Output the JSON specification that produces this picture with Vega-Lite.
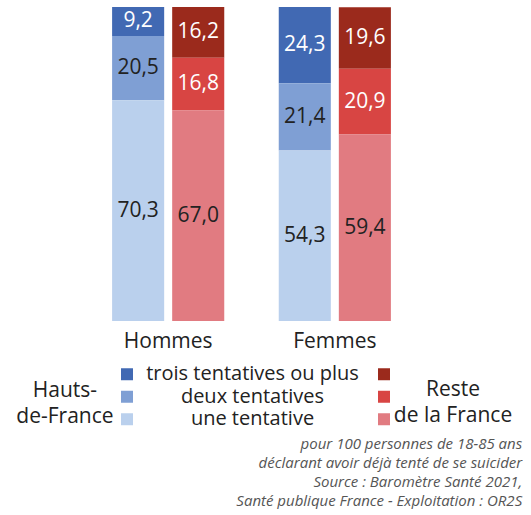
{
  "$schema": "https://vega.github.io/schema/vega-lite/v6.json",
  "padding": {"left": 0, "top": 7, "right": 0, "bottom": 0},
  "config": {
    "font": "Open Sans",
    "view": {"stroke": null},
    "locale": {"number": {"decimal": ",", "thousands": " ", "grouping": [3], "currency": ["", " €"]}}
  },
  "title": {
    "text": ["pour 100 personnes de 18-85 ans", "déclarant avoir déjà tenté de se suicider", "Source : Baromètre Santé 2021,", "Santé publique France - Exploitation : OR2S"],
    "orient": "bottom",
    "anchor": "end",
    "align": "right",
    "fontSize": 15,
    "fontStyle": "italic",
    "fontWeight": "normal",
    "color": "#555555",
    "lineHeight": 19,
    "offset": 6,
    "dx": 10
  },
  "spacing": 12,
  "vconcat": [
    {
      "width": 503,
      "height": 314,
      "data": {"values": [
        {"sexe": "Hommes", "region": "Hauts-de-France", "tentative": "trois tentatives ou plus", "ordre": 3, "valeur": 9.2},
        {"sexe": "Hommes", "region": "Hauts-de-France", "tentative": "deux tentatives", "ordre": 2, "valeur": 20.5},
        {"sexe": "Hommes", "region": "Hauts-de-France", "tentative": "une tentative", "ordre": 1, "valeur": 70.3},
        {"sexe": "Hommes", "region": "Reste de la France", "tentative": "trois tentatives ou plus", "ordre": 3, "valeur": 16.2},
        {"sexe": "Hommes", "region": "Reste de la France", "tentative": "deux tentatives", "ordre": 2, "valeur": 16.8},
        {"sexe": "Hommes", "region": "Reste de la France", "tentative": "une tentative", "ordre": 1, "valeur": 67.0},
        {"sexe": "Femmes", "region": "Hauts-de-France", "tentative": "trois tentatives ou plus", "ordre": 3, "valeur": 24.3},
        {"sexe": "Femmes", "region": "Hauts-de-France", "tentative": "deux tentatives", "ordre": 2, "valeur": 21.4},
        {"sexe": "Femmes", "region": "Hauts-de-France", "tentative": "une tentative", "ordre": 1, "valeur": 54.3},
        {"sexe": "Femmes", "region": "Reste de la France", "tentative": "trois tentatives ou plus", "ordre": 3, "valeur": 19.6},
        {"sexe": "Femmes", "region": "Reste de la France", "tentative": "deux tentatives", "ordre": 2, "valeur": 20.9},
        {"sexe": "Femmes", "region": "Reste de la France", "tentative": "une tentative", "ordre": 1, "valeur": 59.4}
      ]},
      "transform": [
        {"stack": "valeur", "groupby": ["sexe", "region"], "sort": [{"field": "ordre", "order": "ascending"}], "as": ["v0", "v1"]},
        {"calculate": "(datum.v0 + datum.v1) / 2", "as": "milieu"},
        {"calculate": "datum.region + ' | ' + datum.tentative", "as": "groupe"}
      ],
      "encoding": {
        "x": {
          "field": "sexe", "type": "nominal", "sort": ["Hommes", "Femmes"],
          "scale": {"paddingInner": 0.327, "paddingOuter": 0.6727},
          "axis": {"title": null, "labelAngle": 0, "domain": false, "ticks": false, "tickSize": 0, "labelFontSize": 21, "labelColor": "#222222", "labelPadding": 9}
        },
        "xOffset": {
          "field": "region", "type": "nominal", "sort": ["Hauts-de-France", "Reste de la France"],
          "scale": {"paddingInner": 0.1333, "paddingOuter": 0}
        }
      },
      "layer": [
        {
          "mark": {"type": "bar"},
          "encoding": {
            "y": {"field": "v0", "type": "quantitative", "scale": {"domain": [0, 100], "nice": false}, "axis": null},
            "y2": {"field": "v1"},
            "color": {"field": "groupe", "type": "nominal", "legend": null,
              "scale": {
                "domain": ["Hauts-de-France | trois tentatives ou plus", "Hauts-de-France | deux tentatives", "Hauts-de-France | une tentative", "Reste de la France | trois tentatives ou plus", "Reste de la France | deux tentatives", "Reste de la France | une tentative"],
                "range": ["#4169b3", "#7f9fd4", "#bad0ed", "#9b2a1c", "#d84543", "#e17b81"]
              }
            }
          }
        },
        {
          "mark": {"type": "text", "fontSize": 21, "baseline": "middle", "align": "center"},
          "encoding": {
            "y": {"field": "milieu", "type": "quantitative"},
            "text": {"field": "valeur", "type": "quantitative", "format": ".1f"},
            "color": {
              "condition": {"test": "datum.ordre == 3 || (datum.region == 'Reste de la France' && datum.ordre == 2)", "value": "#ffffff"},
              "value": "#222222"
            }
          }
        }
      ]
    },
    {
      "width": 511,
      "height": 67.5,
      "data": {"values": [
        {"region": "Hauts-de-France", "tentative": "trois tentatives ou plus"},
        {"region": "Hauts-de-France", "tentative": "deux tentatives"},
        {"region": "Hauts-de-France", "tentative": "une tentative"},
        {"region": "Reste de la France", "tentative": "trois tentatives ou plus"},
        {"region": "Reste de la France", "tentative": "deux tentatives"},
        {"region": "Reste de la France", "tentative": "une tentative"}
      ]},
      "transform": [{"calculate": "datum.region + ' | ' + datum.tentative", "as": "groupe"}],
      "layer": [
        {
          "mark": {"type": "square", "size": 144, "opacity": 1, "filled": true},
          "encoding": {
            "x": {"field": "region", "type": "nominal",
              "scale": {"type": "point", "domain": ["Hauts-de-France", "milieu", "Reste de la France"], "padding": 0.988}, "axis": null},
            "y": {"field": "tentative", "type": "nominal", "scale": {"type": "point", "domain": ["trois tentatives ou plus", "deux tentatives", "une tentative"], "padding": 0.5}, "axis": null},
            "color": {"field": "groupe", "type": "nominal", "legend": null}
          }
        },
        {
          "transform": [{"filter": "datum.region == 'Hauts-de-France'"}],
          "mark": {"type": "text", "fontSize": 20, "align": "center", "baseline": "middle", "color": "#222222", "dx": -3},
          "encoding": {
            "x": {"datum": "milieu", "type": "nominal"},
            "y": {"field": "tentative", "type": "nominal"},
            "text": {"field": "tentative"}
          }
        },
        {
          "data": {"values": [{"region": "Hauts-de-France", "libelle": "Hauts-\nde-France"}]},
          "mark": {"type": "text", "fontSize": 21, "align": "center", "baseline": "middle", "lineBreak": "\n", "lineHeight": 26, "dx": -62, "dy": -6, "color": "#222222"},
          "encoding": {
            "x": {"field": "region", "type": "nominal"},
            "y": {"datum": "deux tentatives", "type": "nominal"},
            "text": {"field": "libelle"}
          }
        },
        {
          "data": {"values": [{"region": "Reste de la France", "libelle": "Reste\nde la France"}]},
          "mark": {"type": "text", "fontSize": 21, "align": "center", "baseline": "middle", "lineBreak": "\n", "lineHeight": 26, "dx": 69, "dy": -7, "color": "#222222"},
          "encoding": {
            "x": {"field": "region", "type": "nominal"},
            "y": {"datum": "deux tentatives", "type": "nominal"},
            "text": {"field": "libelle"}
          }
        }
      ]
    }
  ],
  "resolve": {"scale": {"color": "shared"}}
}
